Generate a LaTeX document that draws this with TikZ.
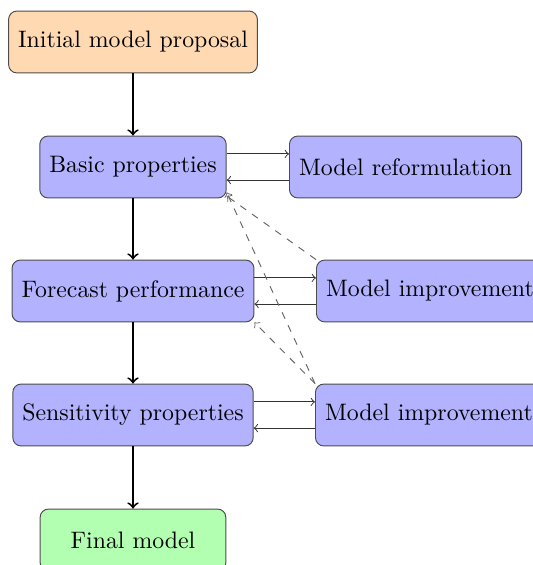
\documentclass[tikz,border=0pt]{standalone}
\usepackage{tikz}
\usetikzlibrary{arrows,shapes}
\tikzstyle{block}=[rectangle,rounded corners=3.5pt,draw=black!70,fill=blue!30,minimum width=78pt,minimum height=26pt,inner xsep=4pt]
\tikzstyle{flow}=[->,thick,black]
\tikzstyle{loop}=[->,black!80]
\tikzstyle{back}=[->,dashed,black!60]

\begin{document}
\begin{tikzpicture}[x=0.42pt,y=-0.42pt]

\useasboundingbox (0,0) rectangle (533,565);

\node[block,fill=orange!30] (init) at (133,42) {Initial model proposal};
\node[block] (basic) at (133,167) {Basic properties};
\node[block] (forecast) at (133,291) {Forecast performance};
\node[block] (sens) at (133,415) {Sensitivity properties};
\node[block,fill=green!30] (final) at (133,540) {Final model};

\node[block,anchor=west] (reform) at (289,167) {Model reformulation};
\node[block,anchor=west] (improveA) at (316,291) {Model improvement};
\node[block,anchor=west] (improveB) at (315,415) {Model improvement};

%main line
\draw[flow] (init) -- (basic);
\draw[flow] (basic) -- (forecast);
\draw[flow] (forecast) -- (sens);
\draw[flow] (sens) -- (final);

%checks and fixes
\foreach \left/\right in {basic/reform, forecast/improveA, sens/improveB} {
    \draw[loop] ([yshift=5.5pt]\left.east) -- ([yshift=5.5pt]\right.west);
    \draw[loop] ([yshift=-5.5pt]\right.west) -- ([yshift=-5.5pt]\left.east);
}

%going back
\draw[back] (improveA.north west) -- ([yshift=1pt]basic.south east);
\draw[back] (improveB.north west) -- ([yshift=2.5pt]basic.south east);
\draw[back] (improveB.north west) -- (forecast.south east);

\end{tikzpicture}
\end{document}
